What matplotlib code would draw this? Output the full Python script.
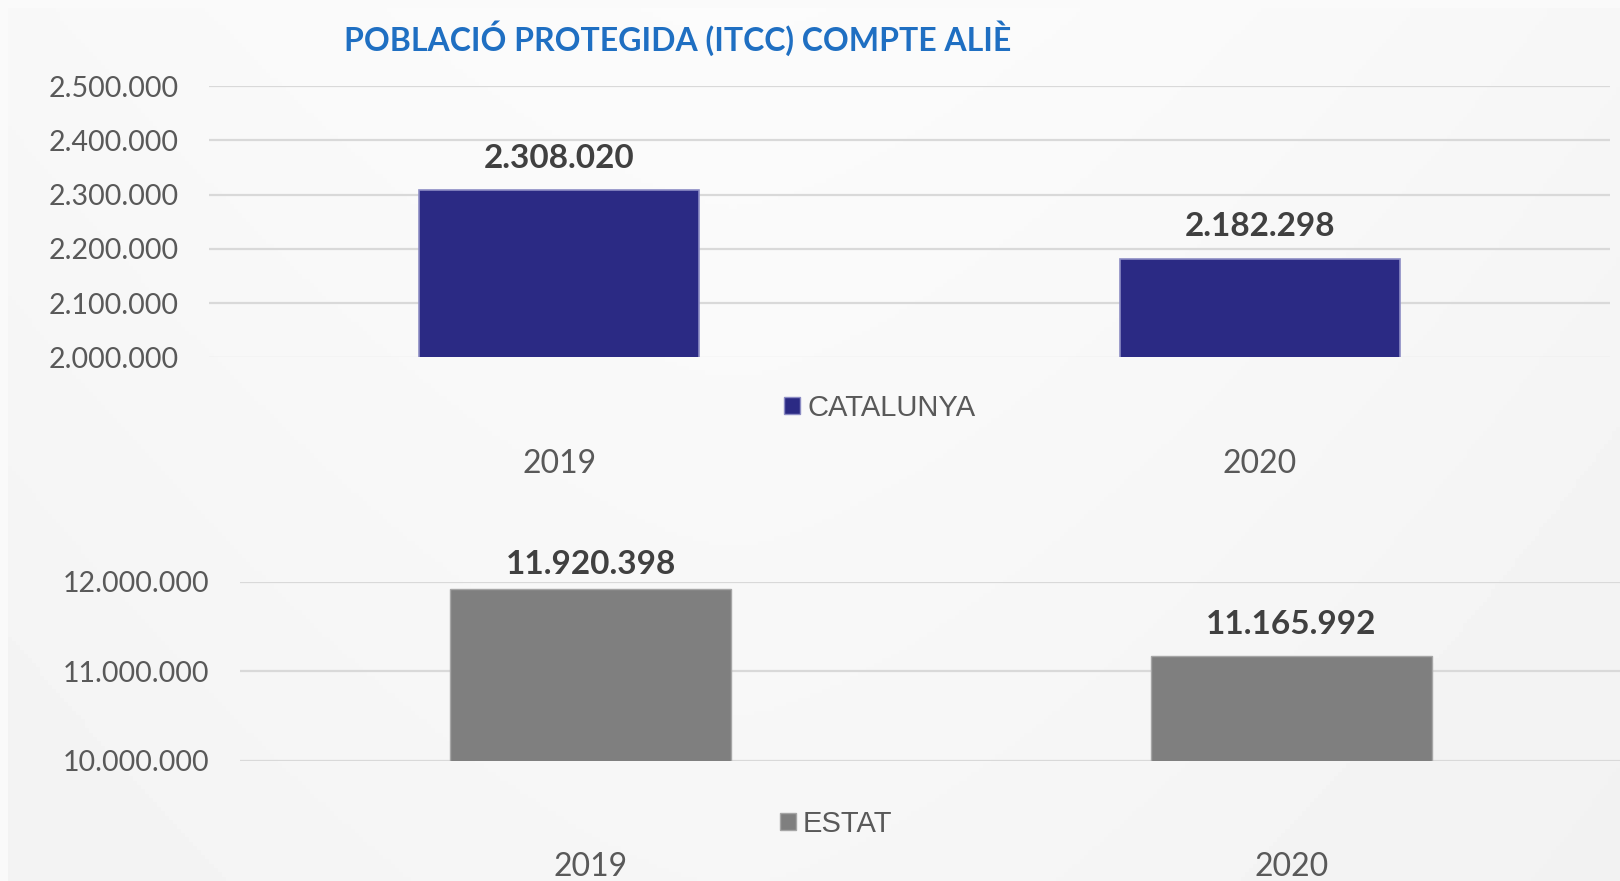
import numpy as np
import matplotlib
matplotlib.use("Agg")
import matplotlib.pyplot as plt
from matplotlib.patches import Patch
from matplotlib.ticker import FuncFormatter, MultipleLocator

years = ["2019", "2020"]
catalunya = [2308020, 2182298]
estat = [11920398, 11165992]
title = "POBLACIÓ PROTEGIDA (ITCC) COMPTE ALIÈ"

W, H = 1620, 881
fig = plt.figure(figsize=(W / 100, H / 100), dpi=100, facecolor="#fafafa")

# soft background gradient like the office chart area
bg = fig.add_axes([8 / W, 0, 1 - 8 / W, 1 - 8 / H], zorder=-10)
yy, xx = np.mgrid[0:1:200j, 0:1:400j]
shade = 0.985 - 0.045 * np.abs(xx - 0.45) ** 1.5 - 0.02 * yy
bg.imshow(shade, cmap="gray", vmin=0, vmax=1, aspect="auto", extent=[0, 1, 0, 1])
bg.axis("off")

def fmt(v, pos=None):
    return f"{v:,.0f}".replace(",", ".")

def px_axes(l, r, t, b):
    return fig.add_axes([l / W, 1 - b / H, (r - l) / W, (b - t) / H])

def style(ax, lo, hi, step):
    ax.set_facecolor("none")
    ax.set_xlim(-0.5, 1.5)
    ax.set_ylim(lo, hi)
    ax.yaxis.set_major_locator(MultipleLocator(step))
    ax.yaxis.set_major_formatter(FuncFormatter(fmt))
    for s in ax.spines.values():
        s.set_visible(False)
    ax.grid(axis="y", color="#d9d9d9", linewidth=1.6, zorder=0)
    ax.set_axisbelow(True)
    ax.tick_params(axis="y", length=0, pad=22, labelsize=20.5, labelcolor="#595959")
    ax.tick_params(axis="x", length=0, pad=66, labelsize=23, labelcolor="#595959")
    for lab in ax.get_yticklabels() + ax.get_xticklabels():
        lab.set_family("Lato")

# top: Catalunya
ax1 = px_axes(209, 1610, 86, 357.5)
ax1.bar(years, catalunya, width=0.4, color="#2b2a84",
        edgecolor="#8c8cc4", linewidth=1.2, zorder=3)
style(ax1, 2000000, 2500000, 100000)
for i, v in enumerate(catalunya):
    ax1.annotate(fmt(v), (i, v), xytext=(0, 23), textcoords="offset points",
                 ha="center", va="center", fontsize=24, fontweight="bold",
                 family="Lato", color="#404040")
ax1.legend(handles=[Patch(facecolor="#2b2a84", edgecolor="#8c8cc4", label="CATALUNYA")],
           loc="center", bbox_to_anchor=(880 / W, 1 - 408 / H), bbox_transform=fig.transFigure,
           frameon=False, handlelength=0.55, handleheight=0.55, handletextpad=0.25,
           prop={"family": "Liberation Sans", "size": 21}, labelcolor="#595959")

# bottom: Estat
ax2 = px_axes(240, 1642, 582, 760.5)
ax2.bar(years, estat, width=0.4, color="#7f7f7f", edgecolor="#a6a6a6",
        linewidth=1.0, zorder=3)
style(ax2, 10000000, 12000000, 1000000)
offsets = [18, 23]
for i, v in enumerate(estat):
    ax2.annotate(fmt(v), (i, v), xytext=(0, offsets[i]), textcoords="offset points",
                 ha="center", va="center", fontsize=24, fontweight="bold",
                 family="Lato", color="#404040", annotation_clip=False)
ax2.legend(handles=[Patch(facecolor="#7f7f7f", edgecolor="#a6a6a6", label="ESTAT")],
           loc="center", bbox_to_anchor=(836 / W, 1 - 824 / H), bbox_transform=fig.transFigure,
           frameon=False, handlelength=0.55, handleheight=0.55, handletextpad=0.25,
           prop={"family": "Liberation Sans", "size": 21}, labelcolor="#595959")

fig.text(678 / W, 1 - 38 / H, title, ha="center", va="center", fontsize=23,
         fontweight="bold", family="Lato", color="#1f6fc2")

fig.savefig("out.png", dpi=100, facecolor=fig.get_facecolor())
